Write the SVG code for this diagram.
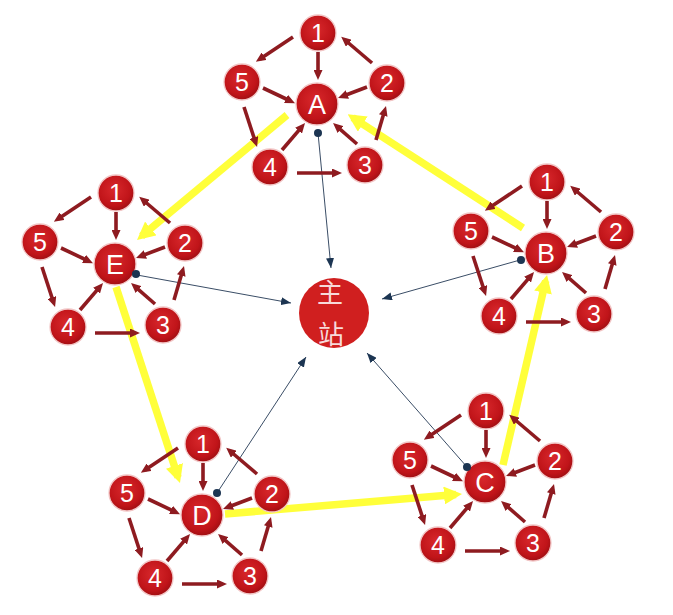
<svg xmlns="http://www.w3.org/2000/svg" xmlns:xlink="http://www.w3.org/1999/xlink" width="673" height="615" viewBox="0 0 673 615">
<style>
.n{fill:url(#rg);stroke:#f2c6c6;stroke-width:1.3}
.t{fill:#fff;font-family:"Liberation Sans",Arial,sans-serif;font-size:25px;text-anchor:middle}
.tc{font-size:27px}
.ra{fill:none;stroke:#8e1b20;stroke-width:3.6;marker-end:url(#mr)}
.ya{fill:none;stroke:#ffff3a;stroke-width:7.5;marker-end:url(#my)}
.na{fill:none;stroke:#3a4d66;stroke-width:1;marker-end:url(#mn)}
.dot{fill:#1c3552}
.cn{fill:#f7dada;font-family:"Noto Sans CJK SC","Noto Sans CJK JP",sans-serif;font-size:26px;text-anchor:middle}
</style>
<defs>
<radialGradient id="rg" cx="45%" cy="40%" r="60%">
<stop offset="0" stop-color="#d8282c"/>
<stop offset="0.75" stop-color="#c01419"/>
<stop offset="1" stop-color="#a10f13"/>
</radialGradient>
<marker id="mr" markerUnits="userSpaceOnUse" markerWidth="10" markerHeight="9" refX="5" refY="4.5" orient="auto"><path d="M0,0 L10,4.5 L0,9 z" fill="#8e1b20"/></marker>
<marker id="my" markerUnits="userSpaceOnUse" markerWidth="18" markerHeight="18" refX="12" refY="9" orient="auto"><path d="M0,0 L18,9 L0,18 z" fill="#ffff3a"/></marker>
<marker id="mn" markerUnits="userSpaceOnUse" markerWidth="10" markerHeight="8" refX="10" refY="4" orient="auto"><path d="M0,0 L10,4 L0,8 z" fill="#1c3552"/></marker>
<g id="arrows">
<path class="ra" d="M-24,-67 L-57,-45"/>
<path class="ra" d="M55,-41 L28,-64"/>
<path class="ra" d="M1,-52 L1,-29"/>
<path class="ra" d="M-54,-16 L-26.5,-3"/>
<path class="ra" d="M50,-17 L25.7,-7.8"/>
<path class="ra" d="M-73,3 L-61.5,38.2"/>
<path class="ra" d="M-35,46 L-15.2,22.8"/>
<path class="ra" d="M40,40 L19.8,22.3"/>
<path class="ra" d="M59,36 L67.6,6.8"/>
<path class="ra" d="M-20,69 L20,69"/>
</g>
</defs>
<rect width="673" height="615" fill="#fff"/>
<g id="connectors">
<g id="ring">
<path class="ya" d="M523,228 L352.7,117.6"/>
<path class="ya" d="M287,115 L141.6,236.2"/>
<path class="ya" d="M116,287 L178.1,477.3"/>
<path class="ya" d="M225,514 L456,494.5"/>
<path class="ya" d="M503,465 L545.7,280.9"/>
</g>
<g id="to-master">
<path class="na" d="M318,133 L331,268"/>
<path class="na" d="M137,275 L291,303"/>
<path class="na" d="M520,260 L382,299"/>
<path class="na" d="M217,493 L306,357"/>
<path class="na" d="M467,467 L367,353"/>
</g>
<g id="local">
<use xlink:href="#arrows" href="#arrows" transform="translate(317,104)"/>
<use xlink:href="#arrows" href="#arrows" transform="translate(115,264)"/>
<use xlink:href="#arrows" href="#arrows" transform="translate(546,253)"/>
<use xlink:href="#arrows" href="#arrows" transform="translate(202,515)"/>
<use xlink:href="#arrows" href="#arrows" transform="translate(485,482)"/>
</g>
</g>
<g id="master"><circle cx="334" cy="313" r="35" fill="#d01f1f"/><text class="cn" x="330" y="302">主</text><text class="cn" x="331" y="344">站</text></g>

<g id="cluster-A" transform="translate(317,104)">
<g id="A"><circle class="n" r="21"/><text class="t tc" y="9.6">A</text></g>
<g id="A1"><circle class="n" cx="1" cy="-71" r="18"/><text class="t" x="1" y="-62">1</text></g>
<g id="A2"><circle class="n" cx="70" cy="-21" r="18"/><text class="t" x="70" y="-12">2</text></g>
<g id="A3"><circle class="n" cx="48" cy="61" r="18"/><text class="t" x="48" y="70">3</text></g>
<g id="A4"><circle class="n" cx="-47" cy="63" r="18"/><text class="t" x="-47" y="72">4</text></g>
<g id="A5"><circle class="n" cx="-75" cy="-22" r="18"/><text class="t" x="-75" y="-13">5</text></g>
<circle class="dot" cx="1" cy="29" r="4"/>
</g>
<g id="cluster-E" transform="translate(115,264)">
<g id="E"><circle class="n" r="21"/><text class="t tc" y="9.6">E</text></g>
<g id="E1"><circle class="n" cx="1" cy="-71" r="18"/><text class="t" x="1" y="-62">1</text></g>
<g id="E2"><circle class="n" cx="70" cy="-21" r="18"/><text class="t" x="70" y="-12">2</text></g>
<g id="E3"><circle class="n" cx="48" cy="61" r="18"/><text class="t" x="48" y="70">3</text></g>
<g id="E4"><circle class="n" cx="-47" cy="63" r="18"/><text class="t" x="-47" y="72">4</text></g>
<g id="E5"><circle class="n" cx="-75" cy="-22" r="18"/><text class="t" x="-75" y="-13">5</text></g>
<circle class="dot" cx="21" cy="10" r="4"/>
</g>
<g id="cluster-B" transform="translate(546,253)">
<g id="B"><circle class="n" r="21"/><text class="t tc" y="9.6">B</text></g>
<g id="B1"><circle class="n" cx="1" cy="-71" r="18"/><text class="t" x="1" y="-62">1</text></g>
<g id="B2"><circle class="n" cx="70" cy="-21" r="18"/><text class="t" x="70" y="-12">2</text></g>
<g id="B3"><circle class="n" cx="48" cy="61" r="18"/><text class="t" x="48" y="70">3</text></g>
<g id="B4"><circle class="n" cx="-47" cy="63" r="18"/><text class="t" x="-47" y="72">4</text></g>
<g id="B5"><circle class="n" cx="-75" cy="-22" r="18"/><text class="t" x="-75" y="-13">5</text></g>
<circle class="dot" cx="-25" cy="7" r="4"/>
</g>
<g id="cluster-D" transform="translate(202,515)">
<g id="D"><circle class="n" r="21"/><text class="t tc" y="9.6">D</text></g>
<g id="D1"><circle class="n" cx="1" cy="-71" r="18"/><text class="t" x="1" y="-62">1</text></g>
<g id="D2"><circle class="n" cx="70" cy="-21" r="18"/><text class="t" x="70" y="-12">2</text></g>
<g id="D3"><circle class="n" cx="48" cy="61" r="18"/><text class="t" x="48" y="70">3</text></g>
<g id="D4"><circle class="n" cx="-47" cy="63" r="18"/><text class="t" x="-47" y="72">4</text></g>
<g id="D5"><circle class="n" cx="-75" cy="-22" r="18"/><text class="t" x="-75" y="-13">5</text></g>
<circle class="dot" cx="15" cy="-22" r="4"/>
</g>
<g id="cluster-C" transform="translate(485,482)">
<g id="C"><circle class="n" r="21"/><text class="t tc" y="9.6">C</text></g>
<g id="C1"><circle class="n" cx="1" cy="-71" r="18"/><text class="t" x="1" y="-62">1</text></g>
<g id="C2"><circle class="n" cx="70" cy="-21" r="18"/><text class="t" x="70" y="-12">2</text></g>
<g id="C3"><circle class="n" cx="48" cy="61" r="18"/><text class="t" x="48" y="70">3</text></g>
<g id="C4"><circle class="n" cx="-47" cy="63" r="18"/><text class="t" x="-47" y="72">4</text></g>
<g id="C5"><circle class="n" cx="-75" cy="-22" r="18"/><text class="t" x="-75" y="-13">5</text></g>
<circle class="dot" cx="-18" cy="-15" r="4"/>
</g>
</svg>
